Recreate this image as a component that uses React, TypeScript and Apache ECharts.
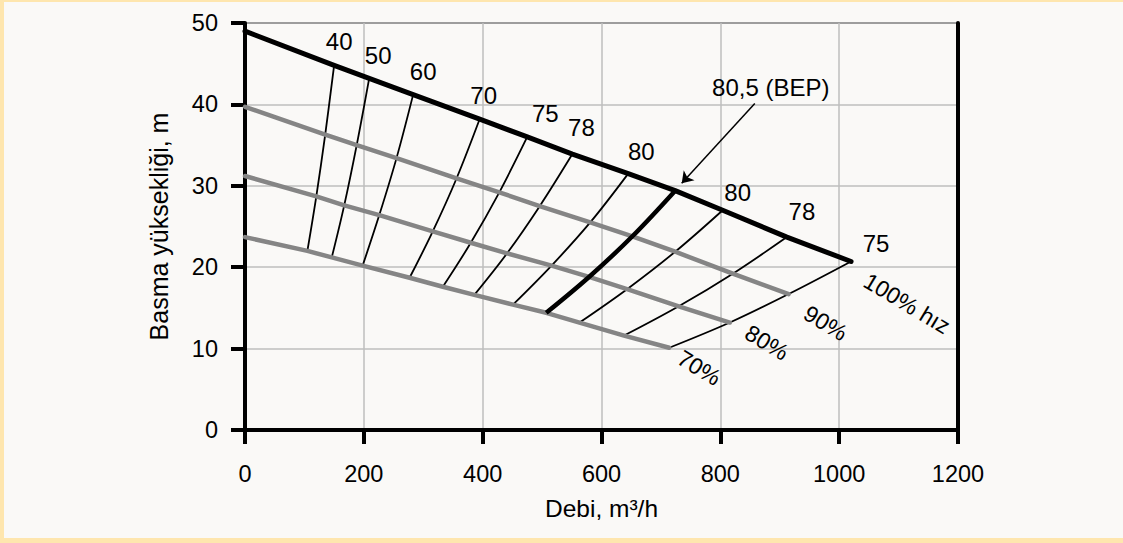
import React, { useEffect, useRef } from 'react';
import * as echarts from 'echarts';

// Flow (m³/h) and head (m) at each iso-efficiency crossing, per speed curve.
// Index 0 = shut-off (Q = 0); indices 1..11 = iso-efficiency lines.
const flow100 = [0, 150, 209, 283, 395, 475, 551, 645, 724, 804, 912, 1020];
const head100 = [49.0, 44.8, 43.2, 41.2, 38.2, 36.0, 33.9, 31.5, 29.4, 27.0, 23.7, 20.7];
const flow90 = [0, 135, 188, 255, 356, 428, 496, 581, 652, 724, 821, 915];
const head90 = [39.7, 36.3, 35.0, 33.4, 30.9, 29.2, 27.5, 25.5, 23.8, 21.9, 19.2, 16.7];
const flow80 = [0, 120, 167, 226, 316, 380, 441, 516, 579, 643, 730, 816];
const head80 = [31.2, 28.7, 27.6, 26.4, 24.4, 23.0, 21.7, 20.2, 18.8, 17.3, 15.2, 13.2];
const flow70 = [0, 105, 146, 198, 277, 333, 386, 451, 507, 563, 638, 714];
const head70 = [23.7, 22.0, 21.2, 20.2, 18.7, 17.6, 16.6, 15.4, 14.4, 13.2, 11.6, 10.1];

const speedLabels = ['100% hız', '90%', '80%', '70%'];
const efficiencyLabels = ['40', '50', '60', '70', '75', '78', '80', '80,5 (BEP)', '80', '78', '75'];
const bepIndex = 8;
const bepArrowStart = [858, 40.1];
const bepArrowEnd = [735, 30.3];

// layout only (pixel offsets of labels from their anchor points)
const effLabelOffsets = [
  [5, -24], [9, -23], [10, -23], [4, -24], [18, -23], [9, -27], [13, -22], [0, 0], [15, -18], [15, -26], [25, -18],
];
const speedLabelOffsets = [[56, 42], [37, 29], [37, 20], [30, 20]];
const SPEED_ROT = 31;

const FONT = '"Liberation Sans", Arial, Helvetica, sans-serif';

function unrotate(d: number[], deg: number) {
  const t = (deg * Math.PI) / 180;
  const c = Math.cos(t);
  const s = Math.sin(t);
  return [d[0] * c + d[1] * s, -d[0] * s + d[1] * c];
}

export default function App() {
  const ref = useRef<HTMLDivElement>(null);
  useEffect(() => {
    if (!ref.current) return;
    const chart = echarts.init(ref.current, undefined, { renderer: 'svg' });
    const flows = [flow100, flow90, flow80, flow70];
    const heads = [head100, head90, head80, head70];
    const speedSeries = flows.map((f, s) => ({
      type: 'line',
      data: f.map((q, i) => [q, heads[s][i]]),
      symbol: 'none',
      smooth: false,
      lineStyle: { color: s === 0 ? '#000000' : '#858585', width: s === 0 ? 5 : 4.5, cap: 'round', join: 'round' },
      z: s === 0 ? 6 : 4,
      silent: true,
    }));
    const isoSeries = efficiencyLabels.map((_, k) => {
      const i = k + 1;
      return {
        type: 'line',
        data: flows.map((f, s) => [f[i], heads[s][i]]),
        symbol: 'none',
        smooth: 0.35,
        lineStyle: { color: '#000000', width: i === bepIndex ? 4.5 : 1.8 },
        z: i === bepIndex ? 5 : 3,
        silent: true,
      };
    });
    const effLabelData: any[] = efficiencyLabels
      .map((t, k) => ({ t, k }))
      .filter(({ k }) => k + 1 !== bepIndex)
      .map(({ t, k }) => ({
        value: [flow100[k + 1], head100[k + 1]],
        label: { formatter: t, offset: effLabelOffsets[k] },
      }));
    effLabelData.push({
      value: bepArrowStart,
      label: { formatter: efficiencyLabels[bepIndex - 1], offset: [16, -16] },
    });
    const speedLabelData = flows.map((f, s) => ({
      value: [f[f.length - 1], heads[s][heads[s].length - 1]],
      label: { formatter: speedLabels[s], offset: unrotate(speedLabelOffsets[s], SPEED_ROT) },
    }));

    const labelBase = {
      show: true, position: 'inside', align: 'center', verticalAlign: 'middle',
      color: '#000000', fontFamily: FONT, textBorderWidth: 0, textBorderColor: 'transparent',
      textShadowBlur: 0, opacity: 1,
    };

    chart.setOption({
      animation: false,
      backgroundColor: '#faf9f7',
      textStyle: { fontFamily: FONT },
      graphic: [
        { type: 'rect', shape: { x: 0, y: 0, width: 4, height: 543 }, style: { fill: '#fee6ae' }, z: 100 },
        { type: 'rect', shape: { x: 0, y: 0, width: 1123, height: 2 }, style: { fill: '#fee6ae' }, z: 100 },
        { type: 'rect', shape: { x: 0, y: 538, width: 1123, height: 5 }, style: { fill: '#fee6ae' }, z: 100 },
      ],
      grid: {
        left: 245, right: 165, top: 23, bottom: 113,
        show: true, borderColor: '#000000', borderWidth: 1.5, backgroundColor: 'transparent',
      },
      xAxis: {
        type: 'value', min: 0, max: 1200, interval: 200,
        name: 'Debi, m³/h', nameLocation: 'middle', nameGap: 66,
        nameTextStyle: { fontSize: 24.5, color: '#000', fontFamily: FONT },
        axisLine: { show: true, onZero: false, lineStyle: { color: '#000', width: 4 } },
        axisTick: { show: true, length: 14, lineStyle: { color: '#000', width: 4 } },
        axisLabel: { fontSize: 23.5, color: '#000', margin: 32, fontFamily: FONT, formatter: (v: number) => String(v) },
        splitLine: { show: true, lineStyle: { color: '#bebebe', width: 1.5 } },
      },
      yAxis: [
        {
          type: 'value', min: 0, max: 50, interval: 10,
          name: 'Basma yüksekliği, m', nameLocation: 'middle', nameGap: 74, nameRotate: 90,
          nameTextStyle: { fontSize: 25, color: '#000', fontFamily: FONT },
          axisLine: { show: true, onZero: false, lineStyle: { color: '#000', width: 4 } },
          axisTick: { show: true, length: 14, lineStyle: { color: '#000', width: 4 } },
          axisLabel: { fontSize: 23.5, color: '#000', margin: 27, fontFamily: FONT, formatter: (v: number) => String(v) },
          splitLine: { show: true, lineStyle: { color: '#bebebe', width: 1.5 } },
        },
        {
          type: 'value', min: 0, max: 50, interval: 10, position: 'right',
          axisLine: { show: true, onZero: false, lineStyle: { color: '#000', width: 4 } },
          axisTick: { show: false }, axisLabel: { show: false }, splitLine: { show: false },
        },
      ],
      series: [
        ...isoSeries,
        ...speedSeries,
        {
          type: 'lines',
          coordinateSystem: 'cartesian2d',
          data: [{ coords: [bepArrowStart, bepArrowEnd] }],
          symbol: ['none', 'arrow'],
          symbolSize: 11,
          lineStyle: { color: '#000', width: 1.5, opacity: 1, curveness: 0 },
          z: 7,
          silent: true,
        },
        {
          type: 'scatter',
          data: effLabelData,
          symbolSize: 0,
          itemStyle: { color: '#000000', opacity: 0 },
          label: { ...labelBase, fontSize: 24 },
          z: 8,
          silent: true,
        },
        {
          type: 'scatter',
          data: speedLabelData,
          symbolSize: 0,
          itemStyle: { color: '#000000', opacity: 0 },
          label: { ...labelBase, rotate: -SPEED_ROT, fontSize: 23 },
          z: 8,
          silent: true,
        },
      ],
    });
    return () => chart.dispose();
  }, []);
  return (
    <div style={{ position: 'fixed', left: 0, top: 0, width: 1123, height: 543 }}>
      <div ref={ref} style={{ width: 1123, height: 543 }} />
    </div>
  );
}
